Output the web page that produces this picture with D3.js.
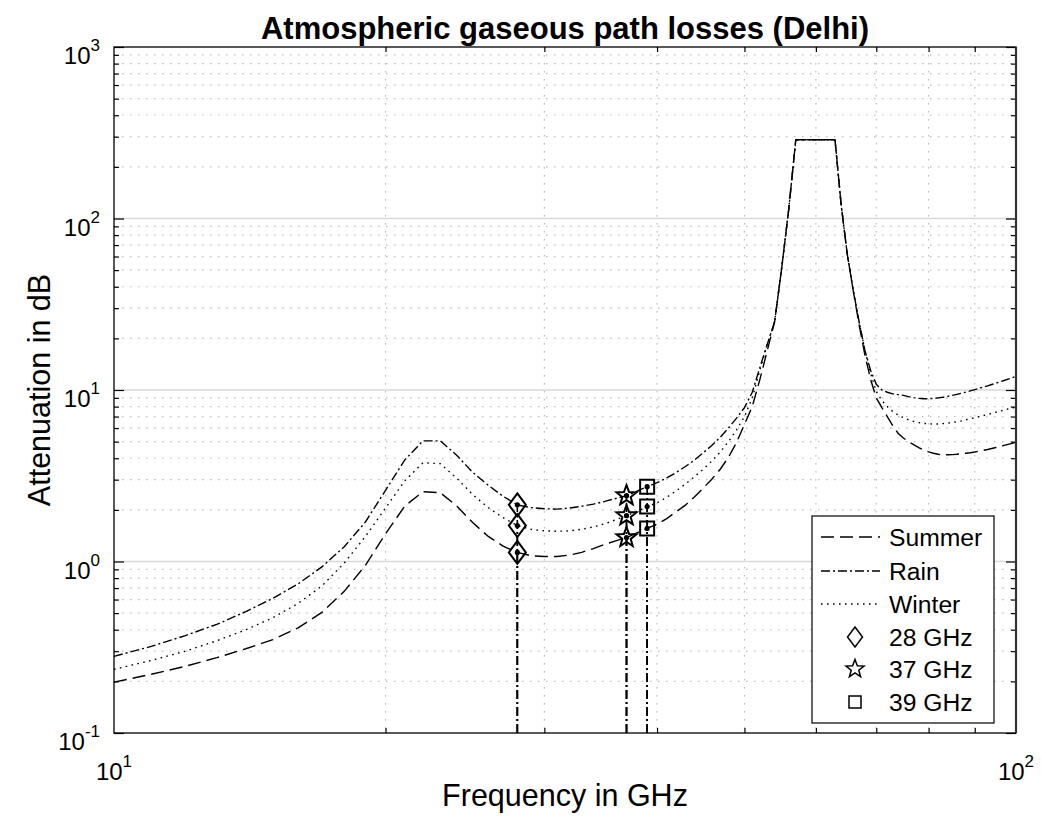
<!DOCTYPE html>
<html>
<head>
<meta charset="utf-8">
<script src="https://cdn.jsdelivr.net/npm/d3@7"></script>
<style>
body { margin: 0; background: #fff; }
text { font-family: "Liberation Sans", Arial, sans-serif; fill: #000; }
</style>
</head>
<body>
<div id="chart"></div>
<script>
// frequency samples (GHz)
let freq = [10, 11, 12, 13, 14, 15, 16, 17, 18, 19, 20, 21, 22, 23, 24, 25, 26, 27, 28, 29,
  30, 31, 32, 33, 34, 35, 36, 37, 38, 39, 40, 41, 42, 43, 44, 45, 46, 47, 48, 49,
  50, 51, 52, 53, 54, 55, 56, 57, 58, 59, 60, 61, 62, 63, 64, 65, 66, 67, 68, 69,
  70, 71, 72, 73, 74, 75, 76, 77, 78, 79, 80, 81, 82, 83, 84, 85, 86, 87, 88, 89,
  90, 91, 92, 93, 94, 95, 96, 97, 98, 99, 100];

let summer = [0.198, 0.22, 0.245, 0.275, 0.31, 0.35, 0.41, 0.505, 0.67, 0.95, 1.45, 2.1, 2.55, 2.52, 2.1, 1.68, 1.4, 1.23, 1.13, 1.08,
  1.07, 1.07, 1.09, 1.13, 1.19, 1.26, 1.32, 1.38, 1.47, 1.56, 1.65, 1.78, 1.95, 2.13, 2.38, 2.68, 3.02, 3.45, 4.05, 4.95,
  6.3, 8.0, 11.5, 17, 25, 52, 115, 288, 288, 288, 288, 288, 288, 288, 120, 62, 38, 24, 16, 11.5,
  9.0, 7.9, 7.0, 6.2, 5.6, 5.25, 5.0, 4.8, 4.62, 4.47, 4.36, 4.28, 4.22, 4.19, 4.19, 4.2, 4.22, 4.25, 4.28, 4.31,
  4.35, 4.4, 4.45, 4.5, 4.56, 4.62, 4.68, 4.75, 4.82, 4.88, 4.95];

let rain = [0.28, 0.32, 0.37, 0.43, 0.51, 0.61, 0.74, 0.93, 1.22, 1.7, 2.6, 3.9, 5.05, 5.05, 4.15, 3.3, 2.78, 2.4, 2.14, 2.06,
  2.03, 2.02, 2.05, 2.1, 2.16, 2.24, 2.33, 2.42, 2.57, 2.73, 2.88, 3.07, 3.3, 3.58, 3.9, 4.3, 4.75, 5.3, 6.0, 6.85,
  7.9, 9.7, 13.5, 18.5, 25, 52, 115, 288, 288, 288, 288, 288, 288, 288, 120, 62, 38, 25, 17, 13,
  10.8, 10.0, 9.7, 9.5, 9.4, 9.3, 9.15, 9.03, 8.95, 8.9, 8.9, 8.93, 9.0, 9.08, 9.18, 9.3, 9.43, 9.57, 9.72, 9.88,
  10.05, 10.22, 10.4, 10.58, 10.77, 10.96, 11.16, 11.36, 11.57, 11.78, 12.0];

let winter = [0.235, 0.265, 0.30, 0.345, 0.40, 0.47, 0.57, 0.72, 0.98, 1.4, 2.05, 2.95, 3.76, 3.72, 3.05, 2.45, 2.06, 1.8, 1.62, 1.54,
  1.51, 1.5, 1.51, 1.54, 1.59, 1.66, 1.75, 1.85, 1.96, 2.09, 2.2, 2.37, 2.58, 2.83, 3.12, 3.45, 3.85, 4.35, 5.0, 5.85,
  7.0, 9.0, 13.0, 18.5, 25, 52, 115, 288, 288, 288, 288, 288, 288, 288, 120, 62, 38, 25, 17, 12.5,
  9.8, 8.7, 8.0, 7.5, 7.15, 6.9, 6.7, 6.56, 6.46, 6.39, 6.35, 6.33, 6.34, 6.37, 6.41, 6.46, 6.53, 6.61, 6.7, 6.79,
  6.89, 6.99, 7.09, 7.2, 7.31, 7.42, 7.53, 7.64, 7.75, 7.85, 7.95];

let markFreq = [28, 37, 39];
let markNames = ["28 GHz", "37 GHz", "39 GHz"];
let seriesNames = ["Summer", "Rain", "Winter"];
let yTicks = [0.1, 1, 10, 100, 1000];
let yExp = ["-1", "0", "1", "2", "3"];
let xTicks = [10, 100];
let xExp = ["1", "2"];

let W = 1041, H = 829;
let mLeft = 114, mRight = 1016, mTop = 47, mBottom = 733;

let svg = d3.select("#chart").append("svg")
  .attr("width", W).attr("height", H);

let x = d3.scaleLog().domain([10, 100]).range([mLeft, mRight]);
let y = d3.scaleLog().domain([0.1, 1000]).range([mBottom, mTop]);

// minor values
let yMinor = [];
[0.1, 1, 10, 100].forEach(function (b) {
  for (let k = 2; k <= 9; ++k) yMinor.push(b * k);
});
let xMinor = [20, 30, 40, 50, 60, 70, 80, 90];

// grid
let grid = svg.append("g");
grid.selectAll(".ymin").data(yMinor).enter().append("line")
  .attr("x1", mLeft).attr("x2", mRight)
  .attr("y1", d => y(d)).attr("y2", d => y(d))
  .attr("stroke", "#bdbdbd").attr("stroke-width", 1.2)
  .attr("stroke-dasharray", "1.5,6.5");
grid.selectAll(".xmin").data(xMinor).enter().append("line")
  .attr("x1", d => x(d)).attr("x2", d => x(d))
  .attr("y1", mTop).attr("y2", mBottom)
  .attr("stroke", "#bdbdbd").attr("stroke-width", 1.2)
  .attr("stroke-dasharray", "1.5,6.5");
grid.selectAll(".ymaj").data([1, 10, 100]).enter().append("line")
  .attr("x1", mLeft).attr("x2", mRight)
  .attr("y1", d => y(d)).attr("y2", d => y(d))
  .attr("stroke", "#d9d9d9").attr("stroke-width", 1.5);

// axes ticks (inside)
function tickAxis(axis, tr) {
  let g = svg.append("g").attr("transform", tr).call(axis);
  g.select(".domain").remove();
  g.selectAll("line").attr("stroke", "#000").attr("stroke-width", 1.2);
  return g;
}
tickAxis(d3.axisLeft(y).tickValues(yMinor).tickSize(-5).tickFormat(""), "translate(" + mLeft + ",0)");
tickAxis(d3.axisRight(y).tickValues(yMinor).tickSize(-5).tickFormat(""), "translate(" + mRight + ",0)");
tickAxis(d3.axisLeft(y).tickValues(yTicks).tickSize(-10).tickFormat(""), "translate(" + mLeft + ",0)");
tickAxis(d3.axisRight(y).tickValues(yTicks).tickSize(-10).tickFormat(""), "translate(" + mRight + ",0)");
tickAxis(d3.axisBottom(x).tickValues(xMinor).tickSize(-5).tickFormat(""), "translate(0," + mBottom + ")");
tickAxis(d3.axisTop(x).tickValues(xMinor).tickSize(-5).tickFormat(""), "translate(0," + mTop + ")");

// tick labels
yTicks.forEach(function (v, i) {
  let t = svg.append("text")
    .attr("x", mLeft - 14).attr("y", y(v) + 17)
    .attr("text-anchor", "end").style("font-size", "24px");
  t.append("tspan").text("10");
  t.append("tspan").attr("dy", -13).style("font-size", "17px").text(yExp[i]);
});
xTicks.forEach(function (v, i) {
  let t = svg.append("text")
    .attr("x", x(v)).attr("y", mBottom + 47)
    .attr("text-anchor", "middle").style("font-size", "24px");
  t.append("tspan").text("10");
  t.append("tspan").attr("dy", -13).style("font-size", "17px").text(xExp[i]);
});

// series
let styles = [
  { dash: "13,6", data: summer },
  { dash: "9,3,2,3", data: rain },
  { dash: "1.6,4.4", data: winter }
];
let line = d3.line()
  .x((d, i) => x(freq[i]))
  .y(d => y(d));

let plot = svg.append("g");
styles.forEach(function (s) {
  plot.append("path")
    .datum(s.data)
    .attr("d", line)
    .attr("fill", "none")
    .attr("stroke", "#000")
    .attr("stroke-width", 1.4)
    .attr("stroke-dasharray", s.dash);
});

// stems and markers
function diamondPath(cx, cy, w, h) {
  return "M" + cx + "," + (cy - h / 2) + "L" + (cx + w / 2) + "," + cy +
    "L" + cx + "," + (cy + h / 2) + "L" + (cx - w / 2) + "," + cy + "Z";
}
function squarePath(cx, cy, s) {
  return "M" + (cx - s / 2) + "," + (cy - s / 2) + "h" + s + "v" + s + "h" + (-s) + "Z";
}
function starPath(cx, cy, r) {
  let p = d3.path();
  for (let k = 0; k < 10; ++k) {
    let a = -Math.PI / 2 + k * Math.PI / 5;
    let rr = k % 2 == 0 ? r : r * 0.42;
    if (k == 0) p.moveTo(cx + rr * Math.cos(a), cy + rr * Math.sin(a));
    else p.lineTo(cx + rr * Math.cos(a), cy + rr * Math.sin(a));
  }
  p.closePath();
  return p.toString();
}
function marker(g, kind, cx, cy, big) {
  let sw = big ? 2 : 1.5;
  let d;
  if (kind == 0) d = diamondPath(cx, cy, big ? 17 : 15, big ? 23 : 20);
  else if (kind == 1) d = starPath(cx, cy, big ? 10.5 : 9.5);
  else d = squarePath(cx, cy, big ? 14 : 12);
  g.append("path").attr("d", d).attr("fill", "none")
    .attr("stroke", "#000").attr("stroke-width", sw);
}

markFreq.forEach(function (f, m) {
  let idx = freq.indexOf(f);
  styles.forEach(function (s) {
    plot.append("line")
      .attr("x1", x(f)).attr("x2", x(f))
      .attr("y1", y(0.1)).attr("y2", y(s.data[idx]))
      .attr("stroke", "#000").attr("stroke-width", 1.6)
      .attr("stroke-dasharray", "9,3,2,3");
  });
  styles.forEach(function (s) {
    let cx = x(f), cy = y(s.data[idx]);
    marker(plot, m, cx, cy, true);
    plot.append("circle").attr("cx", cx).attr("cy", cy).attr("r", 2.6).attr("fill", "#000");
  });
});

// frame
svg.append("rect")
  .attr("x", mLeft).attr("y", mTop)
  .attr("width", mRight - mLeft).attr("height", mBottom - mTop)
  .attr("fill", "none").attr("stroke", "#000").attr("stroke-width", 1.3);
svg.append("line")
  .attr("x1", mRight).attr("x2", mRight).attr("y1", mTop).attr("y2", mBottom)
  .attr("stroke", "#333").attr("stroke-width", 2.2);

// legend
let lg = svg.append("g");
lg.append("rect")
  .attr("x", 812).attr("y", 516).attr("width", 182).attr("height", 207)
  .attr("fill", "#fff").attr("stroke", "#000").attr("stroke-width", 1.2);
let rowY = [537, 571, 604, 637, 669, 702];
seriesNames.forEach(function (n, i) {
  lg.append("line")
    .attr("x1", 821).attr("x2", 880)
    .attr("y1", rowY[i]).attr("y2", rowY[i])
    .attr("stroke", "#000").attr("stroke-width", 1.4)
    .attr("stroke-dasharray", styles[i].dash);
  lg.append("text").attr("x", 889).attr("y", rowY[i] + 8.5)
    .style("font-size", "24.7px").text(n);
});
markNames.forEach(function (n, m) {
  let ry = rowY[3 + m];
  marker(lg, m, 855, ry, false);
  lg.append("text").attr("x", 889).attr("y", ry + 8.5)
    .style("font-size", "24.7px").text(n);
});

// titles
svg.append("text")
  .attr("x", (mLeft + mRight) / 2).attr("y", 39)
  .attr("text-anchor", "middle")
  .style("font-size", "31px").style("font-weight", "bold")
  .text("Atmospheric gaseous path losses (Delhi)");
svg.append("text")
  .attr("x", (mLeft + mRight) / 2).attr("y", 806)
  .attr("text-anchor", "middle")
  .style("font-size", "30.5px")
  .text("Frequency in GHz");
svg.append("text")
  .attr("transform", "translate(50," + ((mTop + mBottom) / 2) + ") rotate(-90)")
  .attr("text-anchor", "middle")
  .style("font-size", "30.5px")
  .text("Attenuation in dB");
</script>
</body>
</html>
